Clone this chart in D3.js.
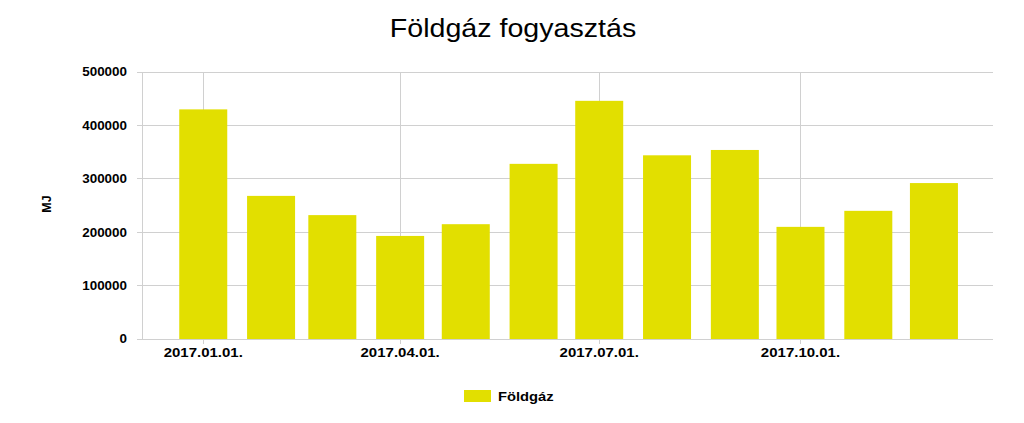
<!DOCTYPE html>
<html><head><meta charset="utf-8">
<script src="https://cdn.jsdelivr.net/npm/d3@7"></script>
<style>
body{margin:0;background:#fff;}
text{font-family:"Liberation Sans",Arial,sans-serif;}
</style></head>
<body><svg id="c" width="1024" height="423"></svg>
<script>
const months = ["2017-01-01","2017-02-01","2017-03-01","2017-04-01","2017-05-01","2017-06-01","2017-07-01","2017-08-01","2017-09-01","2017-10-01","2017-11-01","2017-12-01"];
const values = [430000,268000,232000,193000,215000,328000,446000,344000,354000,210000,240000,292000];
const xTickDates = ["2017-01-01","2017-04-01","2017-07-01","2017-10-01"];
const xTickLabels = ["2017.01.01.","2017.04.01.","2017.07.01.","2017.10.01."];
const yTicks = [0,100000,200000,300000,400000,500000];
const seriesName = "Földgáz";
const title = "Földgáz fogyasztás";
const yLabel = "MJ";

const parse = d3.utcParse("%Y-%m-%d");
const svg = d3.select("#c");
const L = 142, R = 993, T = 72, B = 339;
const x = d3.scaleUtc().domain([parse("2016-12-04"), parse("2017-12-28")]).range([L, R]);
const y = d3.scaleLinear().domain([0, 500000]).range([B, T]);
const color = "#e2df00";
const grid = "#d0d0d0";

// horizontal grid
svg.append("g").selectAll("line").data(yTicks).join("line")
  .attr("x1", L).attr("x2", R).attr("y1", d => y(d)).attr("y2", d => y(d))
  .attr("stroke", grid).attr("stroke-width", 1).attr("shape-rendering","crispEdges");
// vertical grid
svg.append("g").selectAll("line").data(xTickDates).join("line")
  .attr("x1", d => Math.round(x(parse(d)))+0.5).attr("x2", d => Math.round(x(parse(d)))+0.5)
  .attr("y1", T).attr("y2", B+5)
  .attr("stroke", grid).attr("stroke-width", 1);
// left axis short ticks
svg.append("g").selectAll("line").data(yTicks).join("line")
  .attr("x1", L-5).attr("x2", L).attr("y1", d => y(d)).attr("y2", d => y(d))
  .attr("stroke", grid).attr("shape-rendering","crispEdges");
svg.append("line").attr("x1", L).attr("x2", L).attr("y1", T).attr("y2", B)
  .attr("stroke", grid).attr("shape-rendering","crispEdges");

// bars
const bw = 48;
svg.append("g").selectAll("rect").data(values).join("rect")
  .attr("x", (d,i) => x(parse(months[i])) - bw/2)
  .attr("width", bw)
  .attr("y", d => y(d))
  .attr("height", d => B - y(d))
  .attr("fill", color);

// y tick labels (slightly stretched horizontally like the reference)
svg.append("g").selectAll("text").data(yTicks).join("text")
  .attr("transform", d => `translate(${L-15},${y(d)}) scale(1.1,1)`)
  .attr("dy","0.36em")
  .attr("text-anchor","end").attr("font-size", 12.2).attr("font-weight","bold")
  .attr("fill","#000").text(d => d);
// x tick labels
svg.append("g").selectAll("text").data(xTickDates).join("text")
  .attr("transform", d => `translate(${x(parse(d))},357) scale(1.12,1)`)
  .attr("text-anchor","middle").attr("font-size", 13.4).attr("font-weight","bold")
  .attr("fill","#000").text((d,i) => xTickLabels[i]);

// title
svg.append("text").attr("transform","translate(513,37) scale(1.1,1)").attr("text-anchor","middle")
  .attr("font-size", 26).attr("fill","#000").text(title);
// y label
svg.append("text").attr("transform","translate(51,204) rotate(-90)")
  .attr("text-anchor","middle").attr("font-size", 12.5).attr("font-weight","bold")
  .attr("fill","#000").text(yLabel);
// legend
svg.append("rect").attr("x", 464).attr("y", 390).attr("width", 27).attr("height", 12).attr("fill", color);
svg.append("text").attr("transform","translate(498,401) scale(1.1,1)").attr("font-size", 13.4).attr("font-weight","bold")
  .attr("fill","#000").text(seriesName);
</script></body></html>
